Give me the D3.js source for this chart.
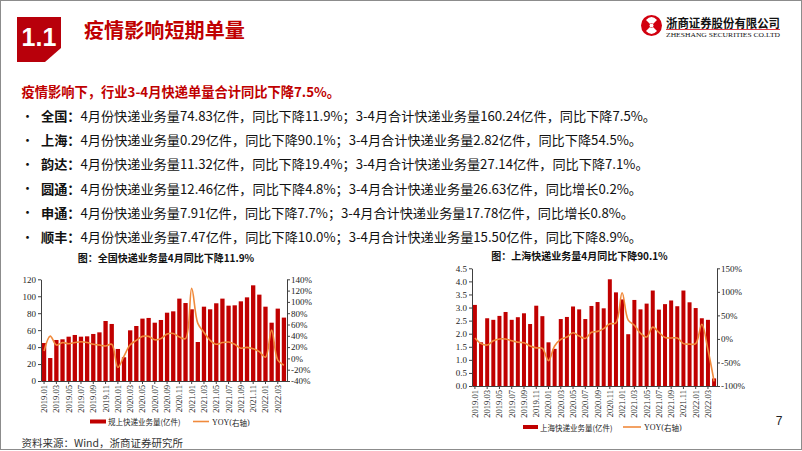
<!DOCTYPE html>
<html><head><meta charset="utf-8">
<script src="https://cdn.jsdelivr.net/npm/d3@7"></script>
<style>body{margin:0;background:#fff} svg{display:block}</style>
</head><body>
<svg id="c" width="802" height="451"></svg>
<script>
// ---------- data ----------
const months = ["2019.01","2019.02","2019.03","2019.04","2019.05","2019.06","2019.07","2019.08","2019.09","2019.10","2019.11","2019.12",
"2020.01","2020.02","2020.03","2020.04","2020.05","2020.06","2020.07","2020.08","2020.09","2020.10","2020.11","2020.12",
"2021.01","2021.02","2021.03","2021.04","2021.05","2021.06","2021.07","2021.08","2021.09","2021.10","2021.11","2021.12",
"2022.01","2022.02","2022.03","2022.04"];
const natVolume = [44.8,27.1,48.4,49.2,52.3,54.3,52.3,52.7,55.5,57.4,70.8,67.3,
37.8,28.0,59.8,64.9,73.6,74.4,68.8,72.0,80.6,82.2,97.2,92.0,
84.6,46.0,87.7,84.6,91.7,97.2,88.9,89.3,94.0,98.7,112.9,101.9,
87.7,68.8,85.4,74.8];
const natYoy = [13,39.5,23.6,28,26,28,29.5,28,25,23.6,22,25,
-16,4,24,32,39,39,33,35,43,44,38,35,
124,62,46,32,25,28,29,25,18,19.5,17,12,
2,50,-3,-12];
const shVolume = [3.10,1.67,2.59,2.53,2.68,2.83,2.53,2.63,2.78,2.37,3.07,2.67,
1.67,1.42,2.56,2.64,3.04,2.93,2.56,3.06,3.21,2.97,4.08,3.58,
3.31,1.98,3.29,2.93,3.15,3.65,2.92,3.13,3.27,3.05,3.65,3.20,
2.98,2.59,2.53,0.29];
const shYoy = [2,-10,-13,-4,0,0,-4,-7,-8,-15,-19,-20,
-46,-15,-1,4,13,6,1,14,16,22,32,34,
98,40,29,12,4,25,14,3,2,2,-10,-11,
-10,31,-23,-90];
const natLeftTicks = [0,20,40,60,80,100,120];
const natRightTicks = [-40,-20,0,20,40,60,80,100,120,140];
const shLeftTicks = [0,0.5,1,1.5,2,2.5,3,3.5,4,4.5];
const shRightTicks = [-100,-50,0,50,100,150];

const headline = "疫情影响下，行业3-4月快递单量合计同比下降7.5%。";
const bulletLabels = ["全国：","上海：","韵达：","圆通：","申通：","顺丰："];
const bulletTexts = [
"4月份快递业务量74.83亿件，同比下降11.9%；3-4月合计快递业务量160.24亿件，同比下降7.5%。",
"4月份快递业务量0.29亿件，同比下降90.1%；3-4月合计快递业务量2.82亿件，同比下降54.5%。",
"4月份快递业务量11.32亿件，同比下降19.4%；3-4月合计快递业务量27.14亿件，同比下降7.1%。",
"4月份快递业务量12.46亿件，同比下降4.8%；3-4月合计快递业务量26.63亿件，同比增长0.2%。",
"4月份快递业务量7.91亿件，同比下降7.7%；3-4月合计快递业务量17.78亿件，同比增长0.8%。",
"4月份快递业务量7.47亿件，同比下降10.0%；3-4月合计快递业务量15.50亿件，同比下降8.9%。"];
const bulletWidths = [615,601,607.6,601,593,601];

// ---------- drawing ----------
const RED = "#C00000", ORANGE = "#F08A3C";
const CJK = "'Noto Sans CJK SC','Noto Sans',sans-serif";
const SERIF = "'Liberation Serif','DejaVu Serif',serif";
const svg = d3.select("#c");

svg.append("rect").attr("x",0.5).attr("y",0.5).attr("width",801).attr("height",449)
  .attr("fill","none").attr("stroke","#8c8c8c").attr("stroke-width",1);

// section block
svg.append("polygon").attr("points","17,17 61,17 61,48 45,62 17,62").attr("fill","#B8000B");
svg.append("text").attr("x",39).attr("y",46).attr("text-anchor","middle")
  .attr("font-family","'Liberation Sans',Arial,sans-serif").attr("font-weight","bold")
  .attr("font-size",25).attr("fill","#fff").text("1.1");
svg.append("text").attr("x",84).attr("y",38).attr("font-family",CJK).attr("font-weight","bold")
  .attr("font-size",20).attr("fill",RED).attr("textLength",161).attr("lengthAdjust","spacingAndGlyphs")
  .text("疫情影响短期单量");

// logo
const lg = svg.append("g");
lg.append("circle").attr("cx",651.5).attr("cy",25.5).attr("r",10.5).attr("fill","#D2000F");
lg.append("path").attr("d","M646,20 Q651.5,14 657,20 L653,24 Q651.5,22 650,24 Z").attr("fill","#fff");
lg.append("path").attr("d","M646,31 Q651.5,37 657,31 L653,27 Q651.5,29 650,27 Z").attr("fill","#fff");
lg.append("circle").attr("cx",651.5).attr("cy",25.5).attr("r",2).attr("fill","#fff");
lg.append("text").attr("x",666).attr("y",27.5).attr("font-family",CJK).attr("font-weight","bold")
  .attr("font-size",12).attr("fill","#111").attr("textLength",114).attr("lengthAdjust","spacingAndGlyphs")
  .text("浙商证券股份有限公司");
lg.append("line").attr("x1",666).attr("x2",780).attr("y1",29.5).attr("y2",29.5).attr("stroke","#D2000F").attr("stroke-width",0.8);
lg.append("text").attr("x",666).attr("y",36.5).attr("font-family",SERIF)
  .attr("font-size",6.5).attr("fill","#111").attr("textLength",114).attr("lengthAdjust","spacingAndGlyphs")
  .text("ZHESHANG SECURITIES CO.LTD");

// body text
svg.append("text").attr("x",21.5).attr("y",91).attr("dominant-baseline","central")
  .attr("font-family",CJK).attr("font-weight","bold").attr("font-size",13.5).attr("fill",RED)
  .attr("textLength",318.5).attr("lengthAdjust","spacingAndGlyphs").text(headline);
bulletLabels.forEach((lab,i)=>{
  const cy = 115 + i*24.2;
  svg.append("text").attr("x",21).attr("y",cy).attr("dominant-baseline","central")
    .attr("font-family",CJK).attr("font-size",13).attr("fill","#111").text("•");
  const t = svg.append("text").attr("x",41).attr("y",cy).attr("dominant-baseline","central")
    .attr("font-family",CJK).attr("font-size",13).attr("fill","#111")
    .attr("textLength",bulletWidths[i]).attr("lengthAdjust","spacingAndGlyphs");
  t.append("tspan").attr("font-weight","bold").text(lab);
  t.append("tspan").text(bulletTexts[i]);
});

function drawChart(o){
  const g = svg.append("g");
  const x = d3.scaleBand().domain(months).range([o.x0,o.x1]).paddingInner(o.pad).paddingOuter(0.15);
  const yL = d3.scaleLinear().domain(o.lDomain).range([o.y0,o.y1]);
  const yR = d3.scaleLinear().domain(o.rDomain).range([o.y0,o.y1]);
  g.append("text").attr("x",o.titleX).attr("y",o.titleY).attr("text-anchor","middle")
    .attr("dominant-baseline","central").attr("font-family",CJK).attr("font-weight","bold")
    .attr("font-size",10).attr("fill","#111").text(o.title);
  g.selectAll("rect.bar").data(o.vol).join("rect").attr("class","bar")
    .attr("x",(d,i)=>x(months[i])).attr("width",x.bandwidth())
    .attr("y",d=>yL(d)).attr("height",d=>yL(0)-yL(d)).attr("fill",RED);
  const line = d3.line().x((d,i)=>x(months[i])+x.bandwidth()/2).y(d=>yR(d)).curve(d3.curveCatmullRom.alpha(0.5));
  g.append("path").attr("d",line(o.yoy)).attr("fill","none").attr("stroke",ORANGE).attr("stroke-width",1.6);

  const styleAxis = sel => {
    sel.select(".domain").attr("stroke","#404040");
    sel.selectAll(".tick line").attr("stroke","#404040");
    sel.selectAll(".tick text").attr("font-family",SERIF).attr("font-size",9).attr("fill","#222");
  };
  g.append("g").attr("transform",`translate(${o.x0},0)`)
    .call(d3.axisLeft(yL).tickValues(o.lTicks).tickSize(3).tickSizeOuter(0).tickPadding(2).tickFormat(o.lFmt))
    .call(styleAxis);
  g.append("g").attr("transform",`translate(${o.x1},0)`)
    .call(d3.axisRight(yR).tickValues(o.rTicks).tickSize(3).tickSizeOuter(0).tickPadding(1).tickFormat(d=>d+"%"))
    .call(styleAxis);
  const xa = g.append("g").attr("transform",`translate(0,${o.y0})`)
    .call(d3.axisBottom(x).tickValues(months.filter((d,i)=>i%2===0)).tickSize(3).tickSizeOuter(0))
    .call(styleAxis);
  xa.selectAll(".tick text").attr("transform","rotate(-90)").attr("text-anchor","end")
    .attr("x",-4).attr("y",0).attr("dy","0.35em").attr("font-size",8.5);
  // legend
  const ly = o.legendY;
  g.append("rect").attr("x",o.lg[0]).attr("y",ly-2).attr("width",o.lg[1]-o.lg[0]).attr("height",4).attr("fill",RED);
  g.append("text").attr("x",o.lg[1]+2).attr("y",ly).attr("dominant-baseline","central")
    .attr("font-family",CJK).attr("font-size",7.5).attr("fill","#222").text(o.legendBar);
  g.append("line").attr("x1",o.lg[2]).attr("x2",o.lg[3]).attr("y1",ly).attr("y2",ly).attr("stroke",ORANGE).attr("stroke-width",1.6);
  const lt = g.append("text").attr("x",o.lg[3]+3).attr("y",ly).attr("dominant-baseline","central")
    .attr("font-size",7.5).attr("fill","#222");
  lt.append("tspan").attr("font-family",SERIF).attr("font-size",8).text("YOY(");
  lt.append("tspan").attr("font-family",CJK).text("右轴");
  lt.append("tspan").attr("font-family",SERIF).attr("font-size",8).text(")");
}

drawChart({x0:41,x1:287,y0:381,y1:279.3,pad:0.3,lDomain:[0,120],rDomain:[-40,140],
  vol:natVolume,yoy:natYoy,lTicks:natLeftTicks,rTicks:natRightTicks,lFmt:d=>d,
  title:"图：全国快递业务量4月同比下降11.9%",titleX:166,titleY:257.5,
  legendY:421.5,lg:[90,106,193,209],legendBar:"规上快递业务量(亿件)"});
drawChart({x0:472,x1:717,y0:386,y1:268.3,pad:0.35,lDomain:[0,4.5],rDomain:[-100,150],
  vol:shVolume,yoy:shYoy,lTicks:shLeftTicks,rTicks:shRightTicks,lFmt:d3.format(".1f"),
  title:"图：上海快递业务量4月同比下降90.1%",titleX:579.5,titleY:255,
  legendY:427,lg:[523,538,623,641],legendBar:"上海快递业务量(亿件)"});

svg.append("text").attr("x",779).attr("y",425).attr("text-anchor","middle")
  .attr("font-family","'Liberation Sans',Arial,sans-serif").attr("font-size",12).attr("fill","#222").text("7");
svg.append("text").attr("x",21.5).attr("y",442).attr("dominant-baseline","central")
  .attr("font-family",CJK).attr("font-size",10.5).attr("fill","#333").text("资料来源：Wind，浙商证券研究所");
</script>
</body></html>
